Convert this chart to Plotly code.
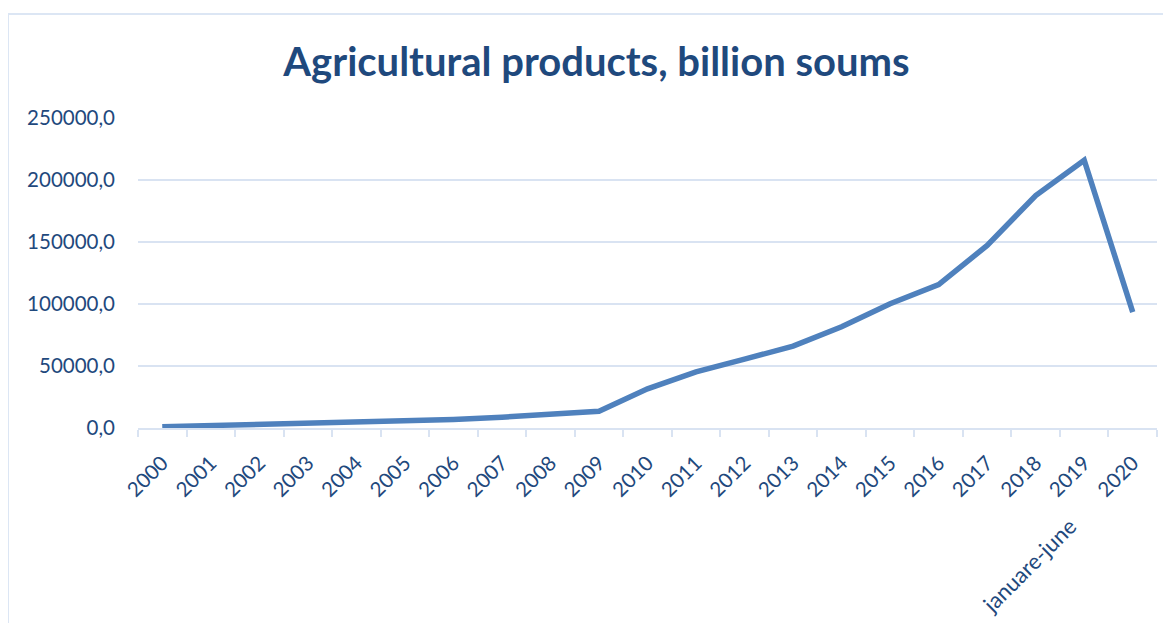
import plotly.graph_objects as go

years = [str(y) for y in range(2000, 2021)]
values = [1000, 2000, 2800, 3600, 4400, 5500, 6900, 8700, 10600, 13500,
          31600, 45300, 55500, 66000, 81600, 100200, 115700, 147200, 187500, 216000, 93400]
y_tickvals = [0, 50000, 100000, 150000, 200000, 250000]
y_ticktext = ["0,0", "50000,0", "100000,0", "150000,0", "200000,0", "250000,0"]
title_text = "Agricultural products, billion soums"
extra_label = "januare-june"

# page body has an 8px margin, so work in screen coords minus 8
OFF = 8
W, H = 1171 - OFF, 623 - OFF
L, T = 138 - OFF, 118 - OFF
pw, ph = 1019, 310
R = W - L - pw
B = H - T - ph

text_color = "#1F497D"
grid_color = "#D9E3F2"
font_family = "Lato, 'Open Sans', sans-serif"

fig = go.Figure()
fig.add_trace(go.Scatter(
    x=years, y=values, mode="lines",
    line=dict(color="#4F81BD", width=5.5),
    hoverinfo="x+y", showlegend=False,
))

def px_x(x):
    return (x - OFF - L) / pw

def px_y(y):
    return (T + ph - (y - OFF)) / ph

fig.update_layout(
    width=W, height=H,
    margin=dict(l=L, r=R, t=T, b=B, pad=0),
    paper_bgcolor="white", plot_bgcolor="white",
    font=dict(family=font_family, color=text_color, size=20.5),
    title=dict(text=title_text, xref="container", yref="container",
               x=(596.5 - OFF) / W, y=1 - (62 - OFF) / H, xanchor="center", yanchor="middle",
               font=dict(family=font_family, size=40, color=text_color, weight="bold")),
    xaxis=dict(type="category", range=[-0.5, 20.5], showgrid=False,
               showline=True, linecolor=grid_color, linewidth=2,
               ticks="outside", ticklen=7, tickcolor=grid_color, tickwidth=2,
               tickson="boundaries", tickangle=-45, ticklabelstandoff=13,
               tickfont=dict(size=20.5, color=text_color)),
    yaxis=dict(range=[0, 250000], tickvals=y_tickvals, ticktext=y_ticktext,
               showgrid=True, gridcolor=grid_color, gridwidth=2,
               zeroline=False, showline=False, ticks="",
               ticklabelstandoff=22,
               tickfont=dict(size=20.5, color=text_color)),
    shapes=[dict(type="rect", xref="paper", yref="paper",
                 x0=px_x(8), x1=px_x(1200), y0=px_y(660), y1=px_y(14),
                 line=dict(color="#DCE6F4", width=2), fillcolor="rgba(0,0,0,0)",
                 layer="below")],
    annotations=[dict(text=extra_label, xref="paper", yref="paper",
                      x=px_x(1028.3), y=px_y(565), xanchor="center", yanchor="middle",
                      textangle=-45, showarrow=False,
                      font=dict(size=22, color=text_color, family=font_family))],
)

fig.write_html("out.html")
